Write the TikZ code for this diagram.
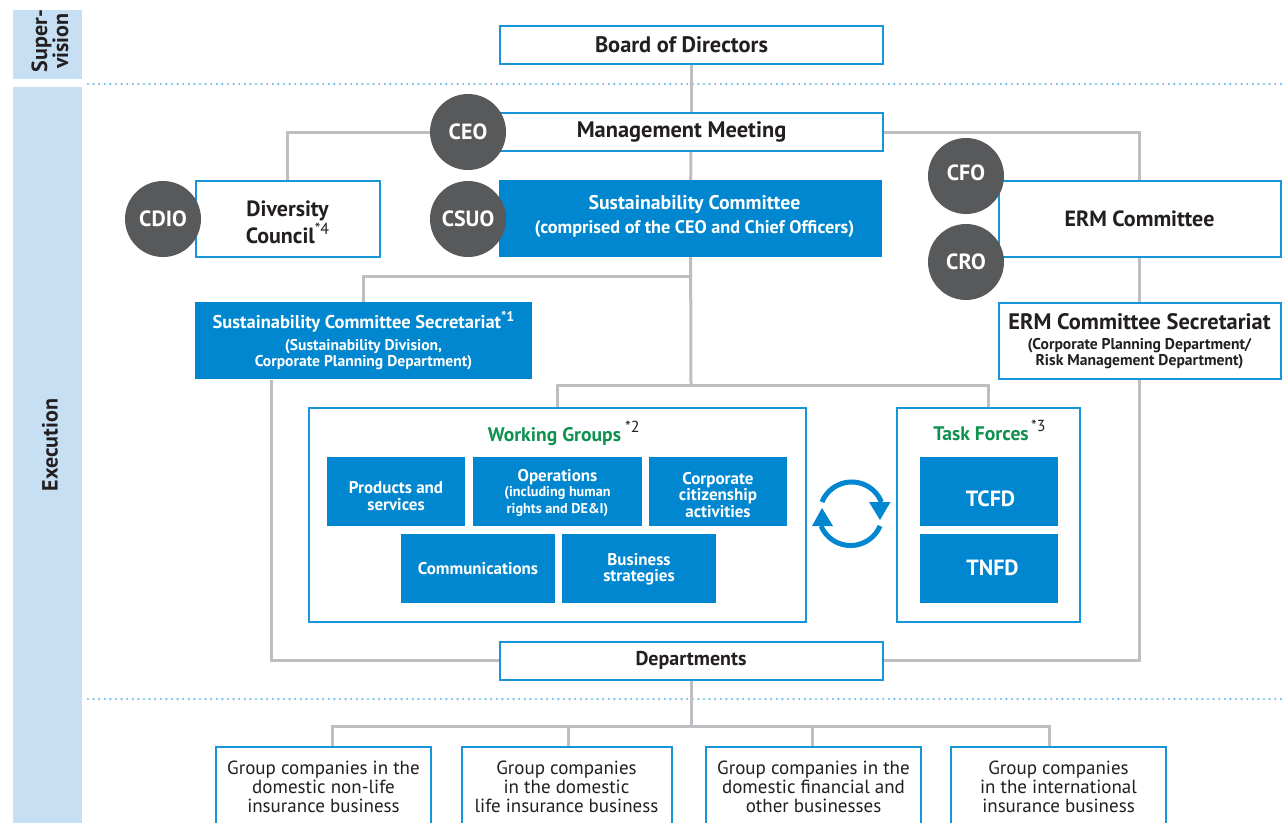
\documentclass[tikz,border=0pt]{standalone}
\usepackage{fontspec}
\setmainfont{PT Sans}
\usetikzlibrary{positioning}
\definecolor{boxBlue}{HTML}{0087CF}
\definecolor{lineBlue}{HTML}{1795D8}
\definecolor{sideBlue}{HTML}{C6DFF3}
\definecolor{dotBlue}{HTML}{6DB9E6}
\definecolor{connGray}{HTML}{BEBEC2}
\definecolor{roleGray}{HTML}{58595B}
\definecolor{titleGreen}{HTML}{0F9150}
\definecolor{inkBlack}{HTML}{231F20}
\newcommand{\fsize}[2]{\fontsize{#1}{#2}\selectfont}
\newcommand{\starmark}[1]{\raisebox{0.42em}{\mdseries\color{inkBlack}\fontsize{16}{16}\selectfont*#1}}
\newcommand{\starwhite}[1]{\raisebox{0.42em}{\fontsize{14}{14}\selectfont*#1}}
\newcommand{\padtop}[1]{\rule{0pt}{#1}}
\newcommand{\padbot}[1]{\rule[-#1]{0pt}{#1}}

\begin{document}
\begin{tikzpicture}[
	x=1pt, y=-1pt,
	node distance = 8pt,
	plain/.style={draw=lineBlue, line width=2pt, fill=white, align=center, outer sep=1pt,
		inner sep=0pt, text=inkBlack, font=\bfseries\fsize{22}{27}},
	solid/.style={fill=boxBlue, align=center, outer sep=0pt, inner sep=0pt, text=white,
		font=\bfseries\fsize{17}{16.5}},
	cell/.style={solid, minimum width=138pt, minimum height=69pt},
	role/.style={circle, fill=roleGray, minimum size=76pt, inner sep=0pt, text=white,
		font=\bfseries\fsize{22}{24}},
	group/.style={plain, minimum width=215pt, minimum height=80pt,
		font=\fsize{19}{19}, text=inkBlack},
	conn/.style={draw=connGray, line width=3pt},
	dotrule/.style={dotBlue, line width=2.4pt, line cap=round, dash pattern=on 0pt off 5.6pt},
	side/.style={fill=sideBlue, inner sep=0pt, outer sep=0pt},
	sidetext/.style={rotate=90, align=center, text=inkBlack, font=\bfseries\fsize{22}{21}},
	title/.style={text=titleGreen, font=\bfseries\fsize{19.6}{20}},
	cyc/.style={draw=boxBlue, line width=5pt},
	]
	\clip (0,0) rectangle (1285,822);
	\path[use as bounding box] (0,0) rectangle (1285,822);
	% left bands
	\node [side, minimum width=69pt, minimum height=69pt] (superband) at (47.5,44.5) {};
	\node [side, minimum width=69pt, minimum height=745pt] (execband) at (47.5,459.5) {};
	\node [sidetext] (supertext) at (50,41) {Super-\\vision};
	\node [sidetext] (exectext) at (50,445) {Execution};
	\coordinate (dot1a) at (88,84);
	\coordinate (dot1b) at (1285,84);
	\coordinate (dot2a) at (88,699);
	\coordinate (dot2b) at (1285,699);
	\draw [dotrule] (dot1a) -- (dot1b);
	\draw [dotrule] (dot2a) -- (dot2b);
	% boxes
	\node [plain, minimum width=383pt, minimum height=38pt, font=\bfseries\fsize{22.4}{27}] (board) at (691,44.5) {Board of Directors\hspace{19pt}};
	\node [plain, minimum width=383pt, minimum height=38pt, font=\bfseries\fsize{22.4}{27}] (mgmt) at (691,132) {Management Meeting\hspace{19pt}};
	\node [solid, minimum width=383pt, minimum height=77pt] (sust) at (690.5,218.5)
		{{\fsize{19.8}{20}\hspace{8pt}Sustainability Committee}\\[6pt]{\fsize{18.2}{18}\hspace{8pt}(comprised of the CEO and Chief Officers)\padbot{9pt}}};
	\node [plain, minimum width=184pt, minimum height=76pt] (div) at (287.5,219)
		{\padtop{22pt}Diversity\\Council\starmark{4}};
	\node [plain, minimum width=282pt, minimum height=76pt] (erm) at (1139.5,219) {ERM Committee};
	\node [solid, minimum width=337pt, minimum height=77pt] (sec) at (363.5,340.5)
		{{\fsize{18.5}{20}Sustainability Committee Secretariat\starwhite{1}}\\[5pt]{\fsize{15.6}{17}(Sustainability Division,}\\{\fsize{15.6}{17}Corporate Planning Department)}};
	\node [draw=lineBlue, line width=2pt, fill=white, align=center, outer sep=1pt, inner sep=0pt,
		minimum width=282pt, minimum height=76pt, text=inkBlack] (ermsec) at (1139.5,341)
		{{\bfseries\fsize{22.4}{22}ERM Committee Secretariat}\\[8pt]{\bfseries\fsize{15.6}{17}(Corporate Planning Department/}\\{\bfseries\fsize{15.6}{17}Risk Management Department)}};
	\node [plain, minimum width=383pt, minimum height=38pt, font=\bfseries\fsize{20}{20}] (dept) at (691,660.5) {Departments};
	% working groups and task forces
	\node [plain, minimum width=497pt, minimum height=214pt] (wg) at (557,514.5) {};
	\node [plain, minimum width=183pt, minimum height=214pt] (tf) at (988.5,514.5) {};
	\node [title] (wgtitle) at (554.5,436.5) {Working Groups};
	\node [anchor=west, inner sep=0pt, font=\fsize{16}{16}, text=inkBlack] (wgstar) at (625,427) {*2};
	\node [title] (tftitle) at (981,434) {Task Forces};
	\node [anchor=west, inner sep=0pt, font=\fsize{16}{16}, text=inkBlack] (tfstar) at (1031,426) {*3};
	\node [cell] (prod) at (396,491.5) {\padtop{21pt}Products and\\services};
	\node [cell, minimum width=169pt, right=8pt of prod] (oper)
		{\padtop{15pt}Operations\\[-1pt]{\fsize{14.2}{14}(including human}\\{\fsize{14.2}{14}rights and DE\&I)}};
	\node [cell, right=7pt of oper] (corp) {\padtop{19pt}Corporate\\citizenship\\activities};
	\node [cell, minimum width=154pt] (comm) at (478,568.5) {Communications};
	\node [cell, minimum width=154pt, right=7pt of comm] (biz) {\padtop{14pt}Business\\strategies\padbot{4pt}};
	\node [cell, font=\bfseries\fsize{22}{22}] (tcfd) at (989,491.5) {\padtop{31pt}\hspace{3pt}TCFD};
	\node [cell, font=\bfseries\fsize{22}{22}, below=8pt of tcfd] (tnfd) {\hspace{7pt}TNFD\padbot{2pt}};
	% group companies
	\node [group] (g1) at (323.5,787) {Group companies in the\hspace{3pt}\\domestic non-life\\insurance business};
	\node [group, minimum width=210pt] (g2) at (566.5,787) {Group companies\\in the domestic\\life insurance business};
	\node [group] (g3) at (813.5,787) {Group companies in the\\domestic financial and\\other businesses};
	\node [group] (g4) at (1058.5,787) {Group companies\\in the international\\insurance business};
	% chief officers
	\node [role] (ceo) at (468,132) {CEO};
	\node [role] (cdio) at (163,219) {CDIO};
	\node [role] (csuo) at (468,219) {CSUO};
	\node [role] (cfo) at (966,176) {CFO\padbot{6pt}};
	\node [role] (cro) at (966,262) {CRO};
	% connectors
	\coordinate (jsec) at (691,276);
	\coordinate (jwork) at (691,385);
	\coordinate (secfoot) at (271,380);
	\coordinate (jgroup) at (691,726);
	\coordinate (t1) at (332.5,746);
	\coordinate (t2) at (568.5,746);
	\coordinate (t3) at (812.5,746);
	\coordinate (t4) at (1049.5,746);
	\draw [conn] (board) -- (mgmt);
	\draw [conn] (mgmt) -- (sust);
	\draw [conn] (ceo) -| (div);
	\draw [conn] (mgmt) -| (erm);
	\draw [conn] (sust) -- (jwork);
	\draw [conn] (jsec) -| (sec);
	\draw [conn] (jwork) -| (wg);
	\draw [conn] (jwork) -| (tf);
	\draw [conn] (erm) -- (ermsec);
	\draw [conn] (secfoot) |- (dept);
	\draw [conn] (ermsec) |- (dept);
	\draw [conn] (dept) -- (jgroup);
	\draw [conn] (jgroup) -| (t1);
	\draw [conn] (jgroup) -| (t2);
	\draw [conn] (jgroup) -| (t3);
	\draw [conn] (jgroup) -| (t4);
	% cycle arrows
	\coordinate (cyca) at (822,502);
	\coordinate (cycb) at (880,526);
	\draw [cyc] (cyca) arc[start angle=158, end angle=22, radius=32pt];
	\draw [cyc] (cycb) arc[start angle=-23, end angle=-157, radius=32pt];
	\fill [boxBlue] (869,502) -- (890.5,502) -- (880,520) -- cycle;
	\fill [boxBlue] (812,526) -- (833,526) -- (822,508) -- cycle;
\end{tikzpicture}
\end{document}
